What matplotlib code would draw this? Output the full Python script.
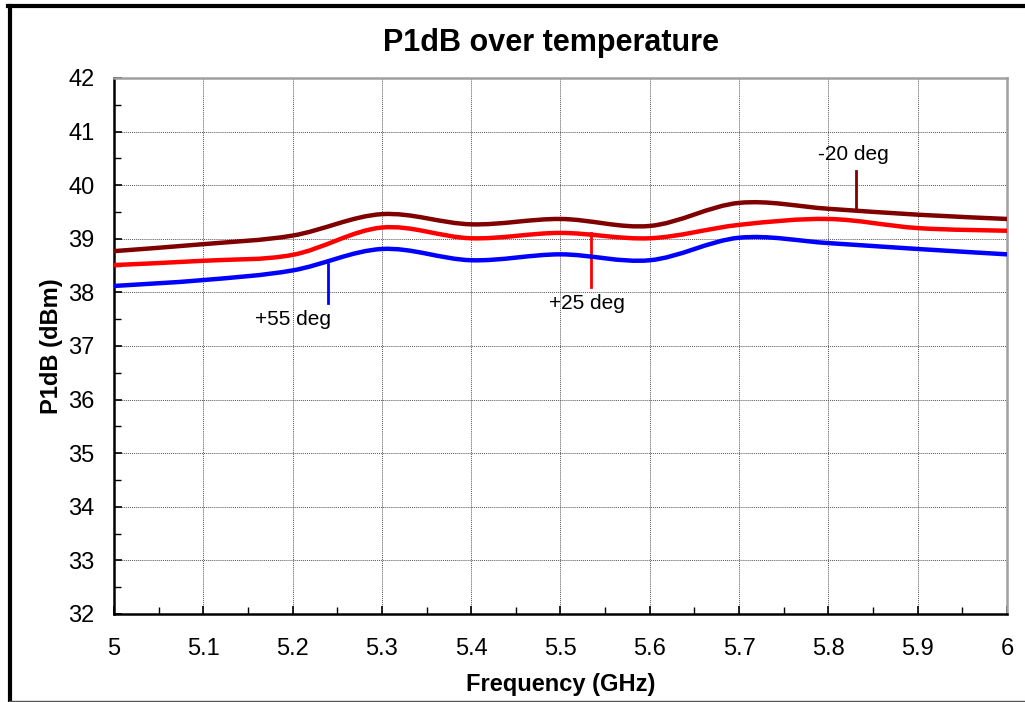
from matplotlib import pyplot as plt
from matplotlib.path import Path
from matplotlib.patches import PathPatch
from matplotlib.lines import Line2D
import numpy as np

plt.rcParams['font.family'] = ['Liberation Sans', 'DejaVu Sans']

# frequency points (GHz) and P1dB (dBm) per temperature
freq = [5.0, 5.1, 5.2, 5.3, 5.4, 5.5, 5.6, 5.7, 5.8, 5.9, 6.0]
p1db_m20 = [38.77, 38.90, 39.06, 39.46, 39.27, 39.37, 39.24, 39.67, 39.56, 39.45, 39.37]
p1db_p25 = [38.51, 38.59, 38.70, 39.21, 39.01, 39.11, 39.01, 39.26, 39.37, 39.20, 39.15]
p1db_p55 = [38.12, 38.23, 38.41, 38.81, 38.60, 38.71, 38.60, 39.02, 38.92, 38.81, 38.71]

series = [
    ('-20 deg', p1db_m20, '#800000'),
    ('+25 deg', p1db_p25, '#ff0000'),
    ('+55 deg', p1db_p55, '#0000ff'),
]
# label text position and marker line (x, y_top, y_bottom)
labels = {
    '-20 deg': ((5.828, 40.58), (5.831, 40.26, 39.55)),
    '+25 deg': ((5.53, 37.80), (5.534, 39.11, 38.11)),
    '+55 deg': ((5.20, 37.49), (5.240, 38.53, 37.80)),
}


def smooth_path(x, y):
    # excel-style smoothed line: catmull-rom segments as cubic beziers
    x = np.asarray(x)
    y = np.asarray(y)
    px = np.concatenate([[x[0]], x, [x[-1]]])
    py = np.concatenate([[y[0]], y, [y[-1]]])
    verts = [(x[0], y[0])]
    codes = [Path.MOVETO]
    for i in range(1, len(px) - 2):
        c1 = (px[i] + (px[i + 1] - px[i - 1]) / 6, py[i] + (py[i + 1] - py[i - 1]) / 6)
        c2 = (px[i + 1] - (px[i + 2] - px[i]) / 6, py[i + 1] - (py[i + 2] - py[i]) / 6)
        verts += [c1, c2, (px[i + 1], py[i + 1])]
        codes += [Path.CURVE4] * 3
    return Path(verts, codes)


fig = plt.figure(figsize=(10.25, 7.02), dpi=100)
ax = fig.add_axes([114 / 1025, 1 - 614 / 702, (1007 - 114) / 1025, (614 - 78) / 702])

for name, vals, color in series:
    ax.add_patch(PathPatch(smooth_path(freq, vals), facecolor='none', edgecolor=color,
                           lw=3.2, capstyle='round', joinstyle='round', zorder=3))
    (tx, ty), (lx, ly0, ly1) = labels[name]
    ax.plot([lx, lx], [ly0, ly1], color=color, lw=2, zorder=3)
    ax.text(tx, ty, name, fontsize=15, ha='center', va='center')

ax.set_xlim(5, 6)
ax.set_ylim(32, 42)
ax.set_xticks(np.arange(5, 6.01, 0.1))
ax.set_xticklabels(['5', '5.1', '5.2', '5.3', '5.4', '5.5', '5.6', '5.7', '5.8', '5.9', '6'])
ax.set_xticks(np.arange(5.05, 6, 0.1), minor=True)
ax.set_yticks(np.arange(32, 42.1, 1))
ax.set_yticks(np.arange(32.5, 42, 1), minor=True)
ax.tick_params(which='major', direction='in', length=6, width=1.2, labelsize=17)
ax.tick_params(which='minor', direction='in', length=5, width=1)
ax.tick_params(axis='x', which='major', pad=17)
ax.tick_params(axis='y', which='major', pad=14)
ax.grid(True, which='major', color='#555555', linestyle=(0, (1, 1)), linewidth=0.7)

for s in ['left', 'bottom']:
    ax.spines[s].set_linewidth(1.8)
    ax.spines[s].set_color('black')
for s in ['top', 'right']:
    ax.spines[s].set_linewidth(1.8)
    ax.spines[s].set_color('#a0a0a0')

ax.set_xlabel('Frequency (GHz)', fontsize=17, fontweight='bold', labelpad=10)
ax.set_ylabel('P1dB (dBm)', fontsize=17, fontweight='bold', labelpad=4)
fig.text(551 / 1025, 1 - 43 / 702, 'P1dB over temperature', fontsize=22,
         fontweight='bold', ha='center', va='center')

# outer chart frame
fig.add_artist(Line2D([9.5 / 1025, 9.5 / 1025], [0, 1 - 6 / 702], color='black', lw=3))
fig.add_artist(Line2D([8 / 1025, 1], [1 - 6 / 702, 1 - 6 / 702], color='black', lw=3))
fig.add_artist(Line2D([9 / 1025, 1], [1.5 / 702, 1.5 / 702], color='#555555', lw=1))

fig.savefig('out.png', dpi=100)
